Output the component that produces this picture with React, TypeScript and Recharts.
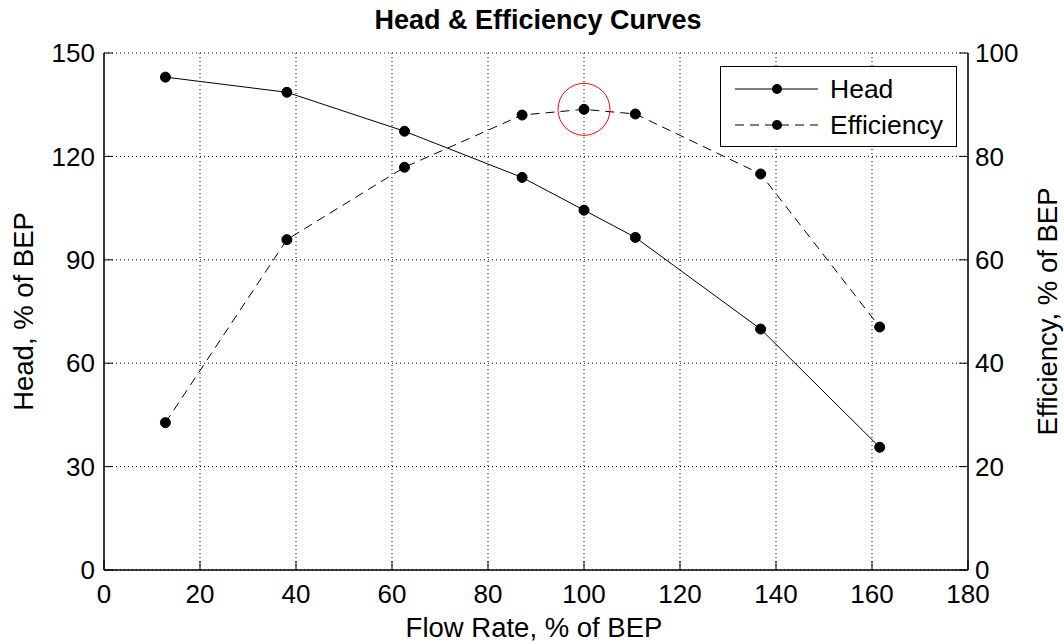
import { LineChart, Line, XAxis, YAxis, CartesianGrid, Legend, ReferenceDot } from 'recharts'

// values (flow, head, efficiency — all % of BEP)
const flowRate = [12.8, 38.1, 62.6, 87.1, 100, 110.7, 136.8, 161.6]
const headPct = [143.0, 138.6, 127.3, 113.9, 104.4, 96.5, 69.9, 35.6]
const efficiencyPct = [28.5, 63.9, 77.9, 88.0, 89.1, 88.2, 76.6, 47.0]

const flowTicks = [0, 20, 40, 60, 80, 100, 120, 140, 160, 180]
const headTicks = [0, 30, 60, 90, 120, 150]
const effTicks = [0, 20, 40, 60, 80, 100]

const bepFlow = 100
const bepEfficiency = 89.1

const legendOrder = ['Head', 'Efficiency']

const FONT = 'Arial, "Liberation Sans", Helvetica, sans-serif'

const data = flowRate.map((f, i) => ({
  flow: f,
  head: headPct[i],
  efficiency: efficiencyPct[i],
}))

const tickStyle = { fill: '#000', fontSize: 26, fontFamily: FONT }
const axisLine = { stroke: '#000', strokeWidth: 1.5 }
const tickLine = { stroke: '#000', strokeWidth: 1 }

const dashes: Record<string, string | undefined> = {
  Head: undefined,
  Efficiency: '9 6',
}

const noTickText = () => <g />

function renderLegend(props: any) {
  const payload = [...(props.payload || [])].sort(
    (a: any, b: any) => legendOrder.indexOf(a.value) - legendOrder.indexOf(b.value)
  )
  return (
    <div
      style={{
        width: 237,
        height: 81,
        border: '1.5px solid #000',
        background: '#fff',
        boxSizing: 'border-box',
      }}
    >
      <svg width={234} height={78}>
        {payload.map((entry: any, i: number) => {
          const cy = 22 + i * 36
          return (
            <g key={entry.value}>
              <line
                x1={14}
                x2={97}
                y1={cy}
                y2={cy}
                stroke="#000"
                strokeWidth={1}
                strokeDasharray={dashes[entry.value]}
              />
              <circle cx={56} cy={cy} r={5} fill="#000" />
              <text
                x={109}
                y={cy}
                dominantBaseline="central"
                fontSize={26.5}
                fontFamily={FONT}
                fill="#000"
              >
                {entry.value}
              </text>
            </g>
          )
        })}
      </svg>
    </div>
  )
}

export default function App() {
  return (
    <div style={{ position: 'absolute', left: 0, top: 0, width: 1064, height: 644, background: '#fff' }}>
      <div
        style={{
          position: 'absolute',
          left: 106,
          top: 5,
          width: 864,
          textAlign: 'center',
          fontFamily: FONT,
          fontWeight: 'bold',
          fontSize: 27,
          lineHeight: '30px',
          color: '#000',
        }}
      >
        Head &amp; Efficiency Curves
      </div>
      <LineChart
        width={1064}
        height={644}
        data={data}
        margin={{ top: 53, right: 36, bottom: 34, left: 44 }}
      >
        <CartesianGrid stroke="#000" strokeDasharray="1 3" yAxisId="head" />
        <XAxis
          dataKey="flow"
          type="number"
          domain={[0, 180]}
          ticks={flowTicks}
          interval={0}
          height={40}
          axisLine={axisLine}
          tickLine={tickLine}
          tickSize={-9}
          tickMargin={24}
          tick={tickStyle}
          label={(p: any) => {
            const vb = p.viewBox
            return (
              <text
                x={vb.x + vb.width / 2 - 2}
                y={vb.y + 57}
                textAnchor="middle"
                dominantBaseline="central"
                fontSize={27.5}
                fontFamily={FONT}
                fill="#000"
              >
                Flow Rate, % of BEP
              </text>
            )
          }}
        />
        <XAxis
          xAxisId="top"
          orientation="top"
          dataKey="flow"
          type="number"
          domain={[0, 180]}
          ticks={flowTicks}
          interval={0}
          height={0}
          axisLine={axisLine}
          tickLine={tickLine}
          tickSize={-9}
          tick={noTickText}
        />
        <YAxis
          yAxisId="head"
          domain={[0, 150]}
          ticks={headTicks}
          interval={0}
          width={60}
          axisLine={axisLine}
          tickLine={tickLine}
          tickSize={-9}
          tickMargin={18}
          tick={tickStyle}
          label={(p: any) => {
            const vb = p.viewBox
            const cx = vb.x - 21
            const cy = vb.y + vb.height / 2
            return (
              <text
                x={cx}
                y={cy}
                transform={`rotate(-90 ${cx} ${cy})`}
                textAnchor="middle"
                dominantBaseline="central"
                fontSize={27.5}
                fontFamily={FONT}
                fill="#000"
              >
                Head, % of BEP
              </text>
            )
          }}
        />
        <YAxis
          yAxisId="eff"
          orientation="right"
          domain={[0, 100]}
          ticks={effTicks}
          interval={0}
          width={60}
          axisLine={axisLine}
          tickLine={tickLine}
          tickSize={-9}
          tickMargin={16}
          tick={tickStyle}
          label={(p: any) => {
            const vb = p.viewBox
            const cx = vb.x + vb.width + 19
            const cy = vb.y + vb.height / 2
            return (
              <text
                x={cx}
                y={cy}
                transform={`rotate(-90 ${cx} ${cy})`}
                textAnchor="middle"
                dominantBaseline="central"
                fontSize={27.5}
                fontFamily={FONT}
                fill="#000"
              >
                Efficiency, % of BEP
              </text>
            )
          }}
        />
        <Legend
          layout="vertical"
          align="center"
          verticalAlign="middle"
          content={renderLegend}
          wrapperStyle={{ position: 'absolute', left: 720, top: 66, width: 237, height: 81 }}
        />
        <Line
          yAxisId="head"
          dataKey="head"
          name="Head"
          type="linear"
          stroke="#000"
          strokeWidth={1}
          dot={{ r: 5, fill: '#000', stroke: '#000', strokeWidth: 1 }}
          activeDot={false}
          isAnimationActive={false}
        />
        <Line
          yAxisId="eff"
          dataKey="efficiency"
          name="Efficiency"
          type="linear"
          stroke="#000"
          strokeWidth={1}
          strokeDasharray="9 6"
          dot={{ r: 5, fill: '#000', stroke: '#000', strokeWidth: 1, strokeDasharray: '' }}
          activeDot={false}
          isAnimationActive={false}
        />
        <ReferenceDot
          yAxisId="eff"
          x={bepFlow}
          y={bepEfficiency}
          r={26}
          fill="none"
          stroke="#ff0000"
          strokeWidth={1}
        />
      </LineChart>
    </div>
  )
}
